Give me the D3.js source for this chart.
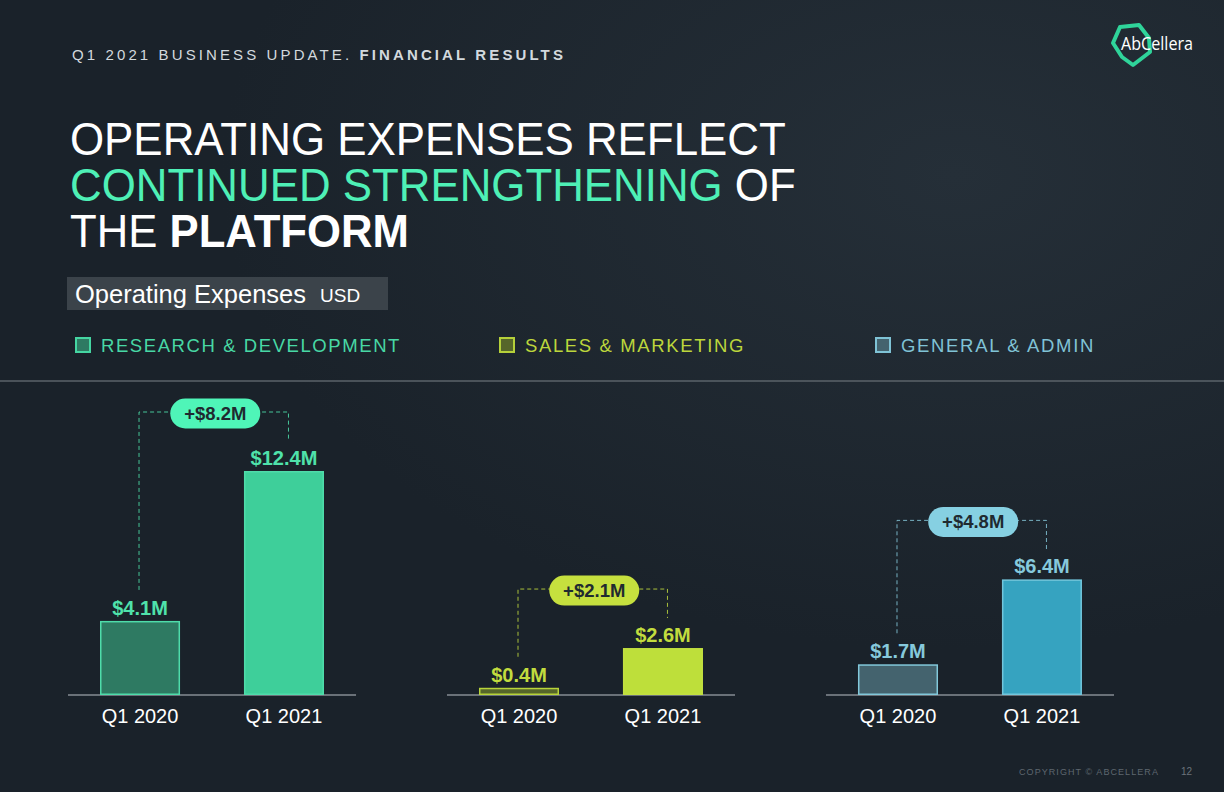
<!DOCTYPE html>
<html><head><meta charset="utf-8">
<script src="https://cdn.jsdelivr.net/npm/d3@7"></script>
<style>html,body{margin:0;padding:0;background:#1a222a;}svg{display:block;}</style>
</head><body>
<svg id="c" width="1224" height="792"></svg>
<script>
const categories = ["RESEARCH & DEVELOPMENT", "SALES & MARKETING", "GENERAL & ADMIN"];
const periods = ["Q1 2020", "Q1 2021"];
const values2020 = [4.1, 0.4, 1.7];
const values2021 = [12.4, 2.6, 6.4];
const valueLabels2020 = ["$4.1M", "$0.4M", "$1.7M"];
const valueLabels2021 = ["$12.4M", "$2.6M", "$6.4M"];
const changeLabels = ["+$8.2M", "+$2.1M", "+$4.8M"];

const palette = [
  {fill0:"#2e7a62", stroke0:"#4fdcaa", fill1:"#3ecf9a", stroke1:"#4fdcaa", label:"#4fe2ab", pill:"#4ff5b8", legFill:"#2e7a62", legStroke:"#45d6a2", legText:"#48d8a5"},
  {fill0:"#56662a", stroke0:"#b8d43a", fill1:"#bedf3a", stroke1:"#c2e040", label:"#c2dc3e", pill:"#c6e03e", legFill:"#56662a", legStroke:"#b5d03a", legText:"#bcd63c"},
  {fill0:"#44636e", stroke0:"#82c8da", fill1:"#36a3c0", stroke1:"#72c6dc", label:"#86c9dc", pill:"#86d0e2", legFill:"#44636e", legStroke:"#7fc3d6", legText:"#80c3d6"}
];

const svg = d3.select("#c");
const font = "'Liberation Sans', Arial, sans-serif";

// background
const defs = svg.append("defs");
const rg = defs.append("radialGradient").attr("id","bg").attr("cx","0.78").attr("cy","0.22").attr("r","0.6");
rg.append("stop").attr("offset","0").attr("stop-color","#252f38");
rg.append("stop").attr("offset","1").attr("stop-color","#1a222a");
svg.append("rect").attr("width",1224).attr("height",792).attr("fill","url(#bg)");

function fitSpacing(sel, target){
  const n = sel.text().length;
  const w = sel.node().getComputedTextLength();
  sel.attr("letter-spacing", (target - w) / n);
}

// header
const hdr = svg.append("text").attr("x",72).attr("y",60).attr("font-family",font).attr("font-size",15).attr("fill","#d3d9de");
hdr.append("tspan").text("Q1 2021 BUSINESS UPDATE. ");
hdr.append("tspan").attr("font-weight","bold").text("FINANCIAL RESULTS");
{
  const n = "Q1 2021 BUSINESS UPDATE. FINANCIAL RESULTS".length;
  const w = hdr.node().getComputedTextLength();
  hdr.attr("letter-spacing", (494 - w) / n);
}

// logo
const logoPts = [[1120,27],[1139,25],[1149,38],[1150,52],[1133,65],[1122,57],[1113,43]];
svg.append("polygon").attr("points", logoPts.map(p=>p.join(",")).join(" "))
  .attr("fill","none").attr("stroke","#2fd49a").attr("stroke-width",4).attr("stroke-linejoin","round");
const logoT = svg.append("text").attr("x",1121).attr("y",50).attr("font-family","'Open Sans', 'DejaVu Sans', sans-serif")
  .attr("font-size",18).attr("fill","#ffffff").text("AbCellera");
logoT.attr("textLength",72).attr("lengthAdjust","spacingAndGlyphs");

// title
const titleLines = [
  [{t:"OPERATING EXPENSES REFLECT", c:"#ffffff", w:"normal"}],
  [{t:"CONTINUED STRENGTHENING", c:"#4ef0b6", w:"normal"}, {t:" OF", c:"#ffffff", w:"normal"}],
  [{t:"THE ", c:"#ffffff", w:"normal"}, {t:"PLATFORM", c:"#ffffff", w:"bold"}]
];
const titleWidths = [716, 726, 339];
const titleBase = [155, 201, 247];
titleLines.forEach((line, i) => {
  const g = svg.append("g");
  const t = g.append("text").attr("x",0).attr("y",0)
    .attr("font-family","'Liberation Sans Narrow', 'Arial Narrow', 'Liberation Sans', Arial, sans-serif")
    .attr("font-size",46);
  line.forEach(p => t.append("tspan").attr("fill",p.c).attr("font-weight",p.w).text(p.t));
  const w = t.node().getComputedTextLength();
  g.attr("transform", `translate(70,${titleBase[i]}) scale(${titleWidths[i]/w},1)`);
});

// subtitle box
svg.append("rect").attr("x",67).attr("y",277).attr("width",321).attr("height",33).attr("fill","#3b434a");
svg.append("text").attr("x",75).attr("y",303).attr("font-family",font).attr("font-size",25.5).attr("fill","#ffffff").text("Operating Expenses");
svg.append("text").attr("x",320).attr("y",302).attr("font-family",font).attr("font-size",19).attr("fill","#ffffff").text("USD");

// legend
const legX = [75, 499, 875];
const legW = [300, 220, 194];
categories.forEach((c, i) => {
  svg.append("rect").attr("x",legX[i]+1).attr("y",338).attr("width",14).attr("height",14)
    .attr("fill",palette[i].legFill).attr("stroke",palette[i].legStroke).attr("stroke-width",2);
  const t = svg.append("text").attr("x",legX[i]+26).attr("y",352).attr("font-family",font)
    .attr("font-size",18.5).attr("fill",palette[i].legText).text(c);
  fitSpacing(t, legW[i]);
});

// separator
svg.append("line").attr("x1",0).attr("x2",1224).attr("y1",381).attr("y2",381).attr("stroke","#5b636a").attr("stroke-width",1.5);

// scales
const y = d3.scaleLinear().domain([0, 12.4]).range([695, 471]);
const panelX = d3.scaleBand().domain(categories).range([68, 1114]).paddingInner(0.24).paddingOuter(0);

categories.forEach((c, i) => {
  const x0 = panelX(c);
  const bw = panelX.bandwidth();
  const inner = d3.scaleBand().domain(periods).range([x0 + 32, x0 + 256]).paddingInner(0.444).paddingOuter(0);
  const g = svg.append("g");
  const vals = [values2020[i], values2021[i]];
  const labs = [valueLabels2020[i], valueLabels2021[i]];
  const p = palette[i];

  // axis baseline
  g.append("line").attr("x1",x0).attr("x2",x0+bw).attr("y1",y(0)).attr("y2",y(0)).attr("stroke","#6a7178").attr("stroke-width",2);

  // bars
  periods.forEach((per, j) => {
    g.append("rect").attr("x",inner(per)+0.75).attr("y",y(vals[j])+0.75)
      .attr("width",inner.bandwidth()-1.5).attr("height",Math.max(0, y(0)-y(vals[j])-1.5))
      .attr("fill", j===0 ? p.fill0 : p.fill1).attr("stroke", j===0 ? p.stroke0 : p.stroke1).attr("stroke-width",1.5);
    g.append("text").attr("x",inner(per)+inner.bandwidth()/2).attr("y",y(vals[j])-6)
      .attr("text-anchor","middle").attr("font-family",font).attr("font-weight","bold").attr("font-size",20)
      .attr("fill",p.label).text(labs[j]);
    g.append("text").attr("x",inner(per)+inner.bandwidth()/2).attr("y",723)
      .attr("text-anchor","middle").attr("font-family",font).attr("font-size",20)
      .attr("fill","#ffffff").text(per);
  });

  // connector
  const lx = inner(periods[0]) + inner.bandwidth()/2 - 1;
  const rx = inner(periods[1]) + inner.bandwidth()/2 + 4.5;
  const topY = y(vals[1]) - 59;
  const path = d3.path();
  path.moveTo(lx, y(vals[0]) - 31);
  path.lineTo(lx, topY);
  path.lineTo(rx, topY);
  path.lineTo(rx, y(vals[1]) - 30);
  g.append("path").attr("d", path.toString()).attr("fill","none").attr("stroke",p.label)
    .attr("stroke-width",1).attr("stroke-dasharray","4,3").attr("opacity",0.85);

  // pill
  const cx = (lx + rx) / 2 + 1.5;
  g.append("rect").attr("x",cx-45).attr("y",topY-13.5).attr("width",90).attr("height",30).attr("rx",15).attr("ry",15)
    .attr("fill",p.pill);
  g.append("text").attr("x",cx).attr("y",topY+8).attr("text-anchor","middle").attr("font-family",font)
    .attr("font-weight","bold").attr("font-size",18.5).attr("fill","#1f2a30").text(changeLabels[i]);
});

// footer
const ft = svg.append("text").attr("x",1019).attr("y",775).attr("font-family",font).attr("font-size",9).attr("fill","#5e676f").text("COPYRIGHT © ABCELLERA");
fitSpacing(ft, 140);
svg.append("text").attr("x",1181).attr("y",775).attr("font-family",font).attr("font-size",10).attr("fill","#6a737a").text("12");
</script>
</body></html>
